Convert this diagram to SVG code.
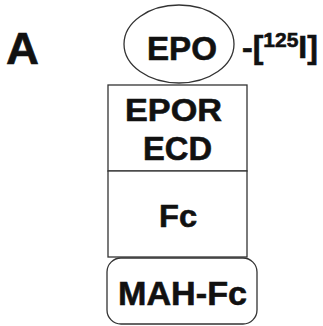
<svg xmlns="http://www.w3.org/2000/svg" width="323" height="326" viewBox="0 0 323 326">
<style>
.t{font-family:"Liberation Sans",Arial,sans-serif;font-weight:bold;fill:#111;stroke:#111;stroke-width:0.6}
.s{fill:#fff;stroke:#333;stroke-width:1.3}
</style>
<rect width="323" height="326" fill="#fff"/>
<text class="t" x="6" y="64" font-size="44" textLength="33" lengthAdjust="spacingAndGlyphs">A</text>
<g id="epo">
<ellipse class="s" cx="179" cy="44" rx="55" ry="39"/>
<text class="t" x="147" y="60" font-size="33" textLength="70" lengthAdjust="spacingAndGlyphs">EPO</text>
</g>
<g id="label125">
<text class="t" x="242" y="58" font-size="32">-[<tspan font-size="21" dy="-11">125</tspan><tspan dy="11">I]</tspan></text>
</g>
<g id="epor">
<rect class="s" x="108" y="85" width="139" height="86"/>
<text class="t" x="125" y="121" font-size="32" textLength="97" lengthAdjust="spacingAndGlyphs">EPOR</text>
<text class="t" x="143" y="160" font-size="33" textLength="69" lengthAdjust="spacingAndGlyphs">ECD</text>
</g>
<g id="fc">
<rect class="s" x="108" y="171" width="139" height="86"/>
<text class="t" x="159" y="227" font-size="32" textLength="38" lengthAdjust="spacingAndGlyphs">Fc</text>
</g>
<g id="mahfc">
<rect class="s" x="107" y="258" width="150" height="66" rx="14"/>
<text class="t" x="118" y="305" font-size="34" textLength="129" lengthAdjust="spacingAndGlyphs">MAH-Fc</text>
</g>
<g id="connectors"/>
</svg>
